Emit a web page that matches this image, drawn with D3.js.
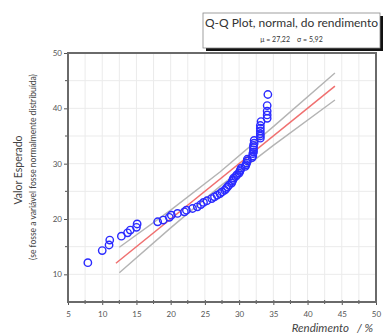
<!DOCTYPE html>
<html>
<head>
<meta charset="utf-8">
<script src="https://cdn.jsdelivr.net/npm/d3@7"></script>
<style>
body { margin: 0; background: #fff; }
text { font-family: Lato, "Open Sans", sans-serif; }
</style>
</head>
<body>
<svg id="main_svg" width="387" height="336"></svg>
<script>
var rendimento = [7.9, 10.0, 11.0, 11.1, 12.8, 13.7, 14.1, 15.0, 15.1, 18.1,
    18.9, 19.8, 20.1, 21.0, 22.0, 22.3, 23.2, 23.9, 24.4, 24.8,
    25.3, 26.0, 26.4, 26.8, 27.2, 27.5, 27.9, 28.1, 28.3, 28.5,
    28.9, 29.0, 29.1, 29.2, 29.5, 29.7, 30.0, 30.1, 30.2, 30.3,
    30.9, 31.0, 31.1, 31.2, 31.2, 31.9, 32.0, 32.0, 32.1, 32.1,
    32.1, 32.1, 32.2, 32.2, 33.1, 33.1, 33.1, 33.1, 33.1, 33.1,
    33.2, 34.1, 34.1, 34.1, 34.1, 34.2];
var esperado = [12.1, 14.3, 15.3, 16.2, 16.9, 17.5, 18.0, 18.5, 19.1, 19.5,
    19.8, 20.3, 20.7, 21.0, 21.3, 21.6, 21.9, 22.2, 22.6, 23.0,
    23.3, 23.7, 24.0, 24.3, 24.6, 24.9, 25.2, 25.5, 25.8, 26.1,
    26.5, 26.8, 27.1, 27.4, 27.7, 28.0, 28.3, 28.6, 28.9, 29.2,
    29.5, 29.8, 30.1, 30.5, 30.8, 31.1, 31.4, 31.8, 32.1, 32.5,
    32.9, 33.3, 33.7, 34.2, 34.6, 35.0, 35.4, 35.9, 36.4, 36.9,
    37.6, 38.2, 38.8, 39.5, 40.5, 42.5];

// reta de referência e bandas de confiança
var retaX = [12, 44];
var retaY = [12, 44];
var bandaX = [12.5, 20, 27.2, 35, 44];
var bandaSup = [14.9, 21.6, 28.5, 36.7, 46.4];
var bandaInf = [10.3, 18.4, 25.9, 33.3, 41.5];

var xTicks = [5, 10, 15, 20, 25, 30, 35, 40, 45, 50];
var yTicks = [10, 20, 30, 40, 50];

var titulo = "Q-Q Plot, normal, do rendimento";
var subtitulo = "\u03bc = 27,22    \u03c3 = 5,92";

var svg = d3.select("#main_svg");

var x = d3.scaleLinear().domain([5, 50]).range([68, 376]);
var y = d3.scaleLinear().domain([5, 50]).range([302, 53]);

// grelha
svg.append("g")
    .selectAll("line")
    .data(d3.range(5, 50.1, 2.5))
    .enter()
    .append("line")
    .attr("x1", function(d) { return x(d); })
    .attr("x2", function(d) { return x(d); })
    .attr("y1", y(5))
    .attr("y2", y(50))
    .attr("stroke", "#ebebeb")
    .attr("stroke-width", 1);

svg.append("g")
    .selectAll("line")
    .data(d3.range(10, 50, 5))
    .enter()
    .append("line")
    .attr("x1", x(5))
    .attr("x2", x(50))
    .attr("y1", function(d) { return y(d); })
    .attr("y2", function(d) { return y(d); })
    .attr("stroke", "#ebebeb")
    .attr("stroke-width", 1);

// bandas e reta
var linha = d3.line()
    .x(function(d) { return x(d[0]); })
    .y(function(d) { return y(d[1]); });

svg.append("path")
    .attr("d", linha(d3.zip(bandaX, bandaSup)))
    .attr("fill", "none")
    .attr("stroke", "#b4b4b4")
    .attr("stroke-width", 1.4);

svg.append("path")
    .attr("d", linha(d3.zip(bandaX, bandaInf)))
    .attr("fill", "none")
    .attr("stroke", "#b4b4b4")
    .attr("stroke-width", 1.4);

svg.append("path")
    .attr("d", linha(d3.zip(retaX, retaY)))
    .attr("fill", "none")
    .attr("stroke", "#f07070")
    .attr("stroke-width", 1.5);

// pontos
svg.append("g")
    .attr("id", "points")
    .selectAll("circle")
    .data(d3.zip(rendimento, esperado))
    .enter()
    .append("circle")
    .attr("cx", function(d) { return x(d[0]); })
    .attr("cy", function(d) { return y(d[1]); })
    .attr("r", 3.7)
    .attr("fill", "none")
    .attr("stroke", "#2a2aff")
    .attr("stroke-width", 1.4);

// eixos
var xAxis = d3.axisBottom(x).tickValues(xTicks).tickSize(4);
var gx = svg.append("g")
    .attr("transform", "translate(0," + y(5) + ")")
    .call(xAxis);
gx.select(".domain").remove();
gx.selectAll(".tick line").attr("stroke", "#555").attr("y1", -2).attr("y2", 3);
gx.selectAll(".tick text")
    .attr("fill", "#555")
    .attr("font-size", 8)
    .attr("y", 9)
    .attr("font-family", "Lato, sans-serif");

svg.append("g")
    .selectAll("line")
    .data(d3.range(7.5, 50, 5))
    .enter()
    .append("line")
    .attr("x1", function(d) { return x(d); })
    .attr("x2", function(d) { return x(d); })
    .attr("y1", y(5) - 2)
    .attr("y2", y(5) + 2)
    .attr("stroke", "#555");

var yAxis = d3.axisLeft(y).tickValues(yTicks).tickSize(4);
var gy = svg.append("g")
    .attr("transform", "translate(" + x(5) + ",0)")
    .call(yAxis);
gy.select(".domain").remove();
gy.selectAll(".tick line").attr("stroke", "#555");
gy.selectAll(".tick text")
    .attr("fill", "#555")
    .attr("font-size", 8)
    .attr("x", -6)
    .attr("font-family", "Lato, sans-serif");

svg.append("g")
    .selectAll("line")
    .data(d3.range(15, 50, 10))
    .enter()
    .append("line")
    .attr("x1", x(5) - 3)
    .attr("x2", x(5))
    .attr("y1", function(d) { return y(d); })
    .attr("y2", function(d) { return y(d); })
    .attr("stroke", "#555");

// moldura
svg.append("rect")
    .attr("x", x(5))
    .attr("y", y(50))
    .attr("width", x(50) - x(5))
    .attr("height", y(5) - y(50))
    .attr("fill", "none")
    .attr("stroke", "#6a6a6a")
    .attr("stroke-width", 2);

// títulos dos eixos
svg.append("text")
    .attr("transform", "translate(22,170) rotate(-90)")
    .attr("text-anchor", "middle")
    .attr("font-size", 10.5)
    .attr("fill", "#444")
    .text("Valor Esperado");

svg.append("text")
    .attr("transform", "translate(36,167) rotate(-90)")
    .attr("text-anchor", "middle")
    .attr("font-size", 8.5)
    .attr("fill", "#444")
    .text("(se fosse a variável fosse normalmente distribuída)");

svg.append("text")
    .attr("x", 373)
    .attr("y", 332)
    .attr("text-anchor", "end")
    .attr("font-size", 11.5)
    .attr("font-style", "italic")
    .attr("fill", "#444")
    .style("white-space", "pre")
    .text("Rendimento   / %");

// caixa do título
svg.append("rect")
    .attr("x", 206)
    .attr("y", 16)
    .attr("width", 177)
    .attr("height", 35)
    .attr("fill", "#111");

svg.append("rect")
    .attr("x", 203)
    .attr("y", 13)
    .attr("width", 177)
    .attr("height", 35)
    .attr("fill", "#fff")
    .attr("stroke", "#888")
    .attr("stroke-width", 0.8);

svg.append("text")
    .attr("x", 291.5)
    .attr("y", 27)
    .attr("text-anchor", "middle")
    .attr("font-size", 12)
    .attr("fill", "#333")
    .text(titulo);

svg.append("text")
    .attr("x", 291.5)
    .attr("y", 42)
    .attr("text-anchor", "middle")
    .attr("font-size", 7)
    .attr("fill", "#333")
    .style("white-space", "pre")
    .text(subtitulo);
</script>
</body>
</html>
